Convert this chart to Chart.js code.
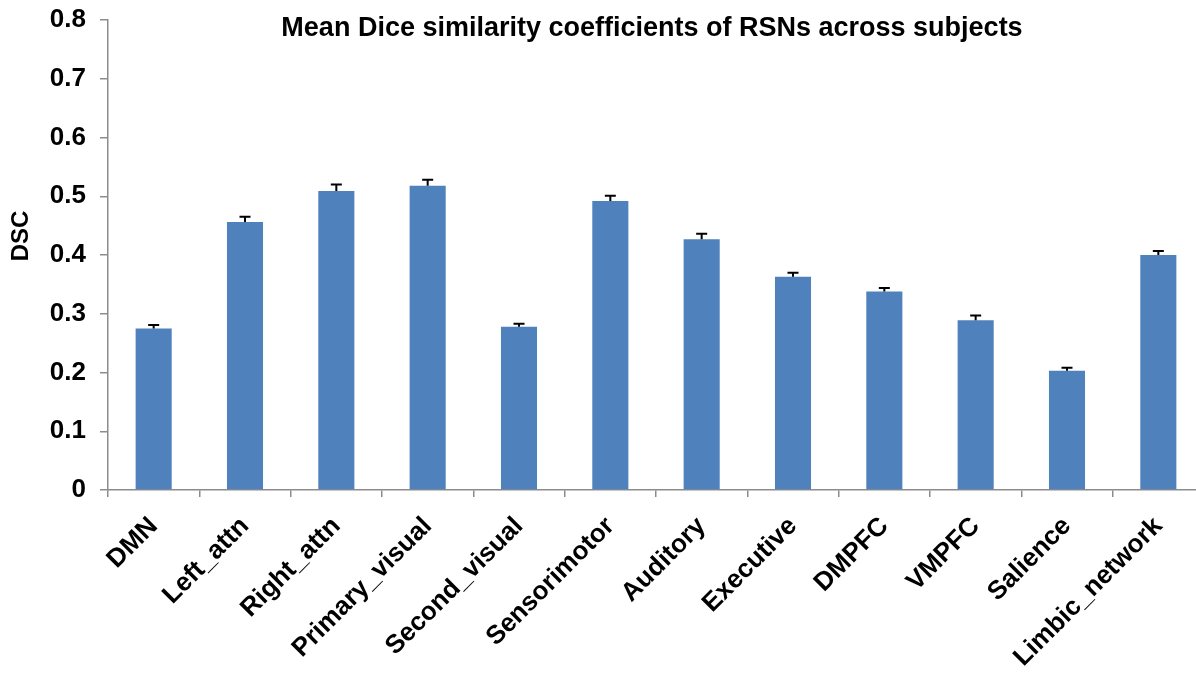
<!DOCTYPE html>
<html>
<head>
<meta charset="utf-8">
<script src="https://cdn.jsdelivr.net/npm/chart.js@4/dist/chart.umd.min.js"></script>
<style>
  html, body { margin: 0; padding: 0; background: #ffffff; overflow: hidden; }
  #wrap { width: 1196px; height: 674px; overflow: hidden; }
  canvas { display: block; }
</style>
</head>
<body>
<div id="wrap"><canvas id="dsc" width="1204" height="674"></canvas></div>
<script>
// Resting-state networks and their mean Dice similarity coefficient (with SE)
const networks = ['DMN', 'Left_attn', 'Right_attn', 'Primary_visual', 'Second_visual',
  'Sensorimotor', 'Auditory', 'Executive', 'DMPFC', 'VMPFC', 'Salience', 'Limbic_network'];
const meanDSC = [0.275, 0.456, 0.509, 0.518, 0.278, 0.492, 0.427, 0.363, 0.338, 0.289, 0.203, 0.400];
const errDSC  = [0.006, 0.009, 0.011, 0.010, 0.005, 0.009, 0.009, 0.007, 0.006, 0.008, 0.005, 0.007];
const yTickLabels = ['0', '0.1', '0.2', '0.3', '0.4', '0.5', '0.6', '0.7', '0.8'];

const chartTitle = 'Mean Dice similarity coefficients of RSNs across subjects';
const yAxisTitle = 'DSC';

const FONT = '"Liberation Sans", Arial, Helvetica, sans-serif';
const AXIS_GREY = '#8c8c8c';

// Upper error bars with a cap, positioned through the chart's own scales
const errorBars = {
  id: 'errorBars',
  afterDatasetsDraw(chart) {
    const { ctx, scales: { y } } = chart;
    const meta = chart.getDatasetMeta(0);
    ctx.save();
    ctx.strokeStyle = '#000000';
    ctx.lineWidth = 2;
    meta.data.forEach((bar, i) => {
      const yBase = y.getPixelForValue(meanDSC[i]);
      const yTop = y.getPixelForValue(meanDSC[i] + errDSC[i]);
      ctx.beginPath();
      ctx.moveTo(bar.x, yBase);
      ctx.lineTo(bar.x, yTop);
      ctx.moveTo(bar.x - 5.5, yTop);
      ctx.lineTo(bar.x + 5.5, yTop);
      ctx.stroke();
    });
    ctx.restore();
  }
};

// Title sits inside the top of the plot; axis title sits beside the upper ticks
const labels = {
  id: 'labels',
  afterDraw(chart) {
    const { ctx } = chart;
    ctx.save();
    ctx.fillStyle = '#000000';
    ctx.textAlign = 'center';
    ctx.textBaseline = 'middle';
    ctx.font = 'bold 27px ' + FONT;
    ctx.fillText(chartTitle, 652, 29);
    ctx.translate(21, 236);
    ctx.rotate(-Math.PI / 2);
    ctx.font = 'bold 24px ' + FONT;
    ctx.fillText(yAxisTitle, 0, 0);
    ctx.restore();
  }
};

new Chart(document.getElementById('dsc'), {
  type: 'bar',
  data: {
    labels: networks,
    datasets: [{
      data: meanDSC,
      backgroundColor: '#4f81bd',
      borderWidth: 0,
      categoryPercentage: 1.0,
      barPercentage: 0.395
    }]
  },
  options: {
    responsive: false,
    animation: false,
    devicePixelRatio: 1,
    layout: { padding: { top: 20, right: 0, bottom: 0, left: 0 } },
    plugins: {
      legend: { display: false },
      title: { display: false },
      tooltip: { enabled: false }
    },
    scales: {
      x: {
        offset: true,
        afterFit(scale) {
          scale.height = 184;
          scale.paddingLeft = 0;
          scale.paddingRight = 0;
        },
        border: { display: true, color: AXIS_GREY, width: 1.5 },
        grid: { display: true, drawOnChartArea: false, drawTicks: true, tickLength: 7, color: AXIS_GREY, lineWidth: 1.5, offset: true },
        ticks: {
          autoSkip: false,
          minRotation: 45,
          maxRotation: 45,
          padding: 14,
          color: '#000000',
          font: { family: FONT, size: 26, weight: 'bold' }
        }
      },
      y: {
        min: 0,
        max: 0.8,
        afterFit(scale) {
          scale.width = 108;
          scale.paddingTop = 0;
          scale.paddingBottom = 0;
        },
        border: { display: true, color: AXIS_GREY, width: 1.5 },
        grid: { display: true, drawOnChartArea: false, drawTicks: true, tickLength: 8, color: AXIS_GREY, lineWidth: 1.5 },
        ticks: {
          stepSize: 0.1,
          padding: 14,
          color: '#000000',
          font: { family: FONT, size: 26, weight: 'bold' },
          callback: (value, index) => yTickLabels[index]
        }
      }
    }
  },
  plugins: [errorBars, labels]
});
</script>
</body>
</html>
